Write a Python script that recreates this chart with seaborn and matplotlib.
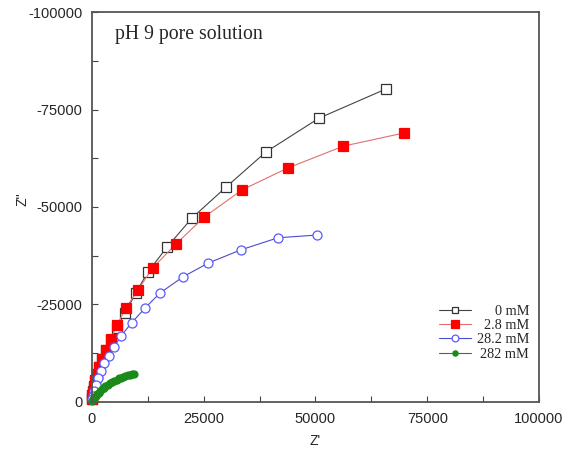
import matplotlib
matplotlib.use("Agg")
import matplotlib.pyplot as plt
import seaborn as sns
import pandas as pd
from matplotlib.ticker import MultipleLocator

# ---- data (Z' and Z'' in ohm) ----
labels = ["0 mM", "2.8 mM", "28.2 mM", "282 mM"]

zre_0 = [65800, 50800, 38900, 30000, 22400, 16800, 12500, 9800, 7400, 5600,
         4250, 3100, 2200, 1600, 1100, 700, 450, 250, 120, 50]
zim_0 = [-80300, -72800, -64100, -55100, -47200, -39700, -33300, -27900, -22800, -19000,
         -15900, -13300, -11000, -9000, -7200, -5600, -4100, -2800, -1800, -800]

zre_28 = [69800, 56200, 43800, 33600, 25100, 18800, 13600, 10300, 7600, 5600,
          4250, 3100, 2200, 1600, 1100, 700, 450, 250, 120, 50]
zim_28 = [-69000, -65600, -60000, -54400, -47400, -40500, -34400, -28700, -24100, -19700,
          -16200, -13300, -11000, -9000, -7200, -5400, -3800, -2600, -1500, -800]

zre_282 = [50300, 41600, 33300, 26000, 20400, 15200, 11900, 8900, 6500, 4900,
           3800, 2700, 2000, 1300, 900, 450, 200, 50]
zim_282 = [-42800, -42100, -39000, -35600, -32100, -27900, -24100, -20300, -16900, -14100,
           -11800, -10000, -7900, -6200, -4400, -2800, -1500, -800]

zre_2820 = [9500, 9000, 8500, 8000, 7500, 7000, 6500, 6000, 5500, 5000, 4500, 4000,
            3500, 3000, 2600, 2200, 1800, 1500, 1200, 900, 700, 500, 300, 150, 50]
zim_2820 = [-7200, -7100, -7000, -6800, -6600, -6400, -6200, -6000, -5700, -5400, -5100, -4800,
            -4400, -4000, -3600, -3200, -2800, -2400, -2000, -1600, -1300, -1000, -700, -400, -150]

x_ticks = [0, 25000, 50000, 75000, 100000]
y_ticks = [0, -25000, -50000, -75000, -100000]

sns.set_style("white")
plt.rcParams["font.family"] = ["Liberation Sans", "DejaVu Sans"]
plt.rcParams["axes.unicode_minus"] = False

fig = plt.figure(figsize=(5.71, 4.49), dpi=100)
ax = fig.add_axes([0.161, 0.105, 0.783, 0.868])

series = [
    (zre_0, zim_0, dict(marker="s", color="#444444", mfc="white", mec="#333333", ms=6.5, mew=0.9)),
    (zre_28, zim_28, dict(marker="s", color="#e07070", mfc="#ff0000", mec="#ff0000", ms=6.8, mew=0.9)),
    (zre_282, zim_282, dict(marker="o", color="#4b4bd0", mfc="white", mec="#5a5aff", ms=6.5, mew=0.9)),
    (zre_2820, zim_2820, dict(marker="o", color="#1a8a1a", mfc="#1a8a1a", mec="#1a8a1a", ms=5, mew=0.9)),
]

for lab, (xs, ys, st) in zip(labels, series):
    df = pd.DataFrame({"x": xs, "y": ys})
    sns.lineplot(data=df, x="x", y="y", sort=False, estimator=None, ax=ax,
                 lw=0.8, label=lab, clip_on=False, **st)

ax.set_xlim(0, 100000)
ax.set_ylim(0, -100000)
ax.set_xticks(x_ticks)
ax.set_yticks(y_ticks)
ax.xaxis.set_minor_locator(MultipleLocator(12500))
ax.yaxis.set_minor_locator(MultipleLocator(12500))
ax.tick_params(which="both", direction="in", length=4, width=0.8, color="#444444",
               labelsize=10.5, pad=7, top=False, right=False, bottom=True, left=True)
ax.set_xticklabels([str(v) for v in x_ticks])
ax.set_yticklabels([str(v) for v in y_ticks])

for s in ax.spines.values():
    s.set_color("#555555")
    s.set_linewidth(1.3)

ax.set_xlabel("Z'", fontsize=10, labelpad=6)
ax.set_ylabel("Z''", fontsize=10)
ax.yaxis.set_label_coords(-0.139, 0.52)

ax.text(0.051, 0.942, "pH 9 pore solution", transform=ax.transAxes,
        fontsize=14.2, family="Liberation Serif", va="center", ha="left")

leg = ax.legend(loc="center right", bbox_to_anchor=(1.0, 0.177), frameon=False,
                prop={"family": "Liberation Serif", "size": 10.3}, handlelength=2.2,
                labelspacing=0.08, handletextpad=0.4, borderpad=0.2, markerscale=0.75)
fig.canvas.draw()
renderer = fig.canvas.get_renderer()
widths = [t.get_window_extent(renderer).width for t in leg.get_texts()]
maxw = max(widths)
for t, w in zip(leg.get_texts(), widths):
    t.set_position((maxw - w, 0))

fig.savefig("out.png", dpi=100)
